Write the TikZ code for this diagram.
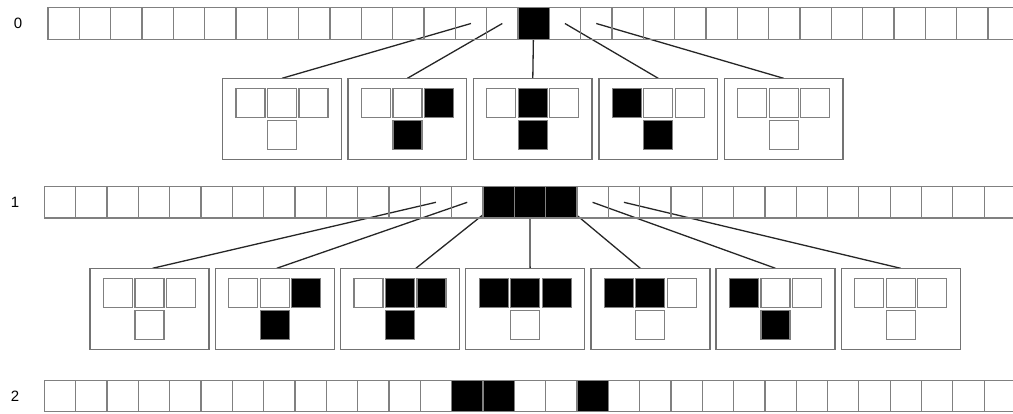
\documentclass[tikz,border=0pt]{standalone}
\usepackage{fontspec}
\setmainfont{Liberation Sans}
\usetikzlibrary{calc,backgrounds}

\tikzset{
  cell/.style={draw=black!50,line width=1.2pt,minimum size=31.33pt,inner sep=0pt,outer sep=0pt},
  small/.style={draw=black!50,line width=1.2pt,minimum size=29pt,inner sep=0pt,outer sep=0pt},
  rulebox/.style={draw=black!55,line width=1.4pt,fill=white,minimum width=118.5pt,minimum height=81pt,inner sep=0pt,outer sep=0pt},
  link/.style={draw=black!85,line width=1.3pt},
  stepno/.style={font=\fontsize{15}{18}\selectfont,inner sep=0pt}
}

\begin{document}
\begin{tikzpicture}[x=1pt,y=-1pt]
  \useasboundingbox (0,0) rectangle (1013,413);

  % generation labels
  \node[stepno] (lab0) at (18,23) {0};
  \node[stepno] (lab1) at (15,202) {1};
  \node[stepno] (lab2) at (15,396) {2};

  % generation 0
  \foreach \i in {0,...,30}{
    \pgfmathtruncatemacro\k{(\i==15)}
    \node[cell,fill=black,fill opacity=\k] (a\i) at ({48+15.67+\i*31.33},23.5) {};
  }
  % generation 1
  \foreach \i in {0,...,30}{
    \pgfmathtruncatemacro\k{(\i>=14 && \i<=16)}
    \node[cell,fill=black,fill opacity=\k] (b\i) at ({44.3+15.67+\i*31.33},202.3) {};
  }
  % generation 2
  \foreach \i in {0,...,30}{
    \pgfmathtruncatemacro\k{(\i==13 || \i==14 || \i==17)}
    \node[cell,fill=black,fill opacity=\k] (c\i) at ({44.3+15.67+\i*31.33},396) {};
  }

  % neighbourhoods 0 -> 1
  \foreach \n/\l/\c/\r/\s in {1/0/0/0/0,2/0/0/100/100,3/0/100/0/100,4/100/0/0/100,5/0/0/0/0}{
    \node[rulebox] (p\n) at ({282+(\n-1)*125.4},118.8) {};
    \node[small,fill=black!\l] (p\n-l) at ($(p\n)+(-31.5,-16)$) {};
    \node[small,fill=black!\c] (p\n-c) at ($(p\n)+(0,-16)$) {};
    \node[small,fill=black!\r] (p\n-r) at ($(p\n)+(31.5,-16)$) {};
    \node[small,fill=black!\s] (p\n-s) at ($(p\n)+(0,16)$) {};
  }

  % neighbourhoods 1 -> 2
  \foreach \n/\l/\c/\r/\s in {1/0/0/0/0,2/0/0/100/100,3/0/100/100/100,4/100/100/100/0,5/100/100/0/0,6/100/0/0/100,7/0/0/0/0}{
    \node[rulebox,minimum width=119pt] (q\n) at ({149.5+(\n-1)*125.2},308.8) {};
    \node[small,fill=black!\l] (q\n-l) at ($(q\n)+(-31.5,-16)$) {};
    \node[small,fill=black!\c] (q\n-c) at ($(q\n)+(0,-16)$) {};
    \node[small,fill=black!\r] (q\n-r) at ($(q\n)+(31.5,-16)$) {};
    \node[small,fill=black!\s] (q\n-s) at ($(q\n)+(0,16)$) {};
  }

  % links under the cells
  \begin{scope}[on background layer]
    \foreach \i/\n in {13/1,14/2,15/3,16/4,17/5}
      \draw[link] (a\i.center) -- (p\n.north);
    \foreach \i/\n/\d in {12/1/3,13/2/2,14/3/16,15/4/5,16/5/-10,17/6/0,18/7/0}
      \draw[link] (b\i.center) -- ([xshift=\d pt]q\n.north);
  \end{scope}
\end{tikzpicture}
\end{document}
